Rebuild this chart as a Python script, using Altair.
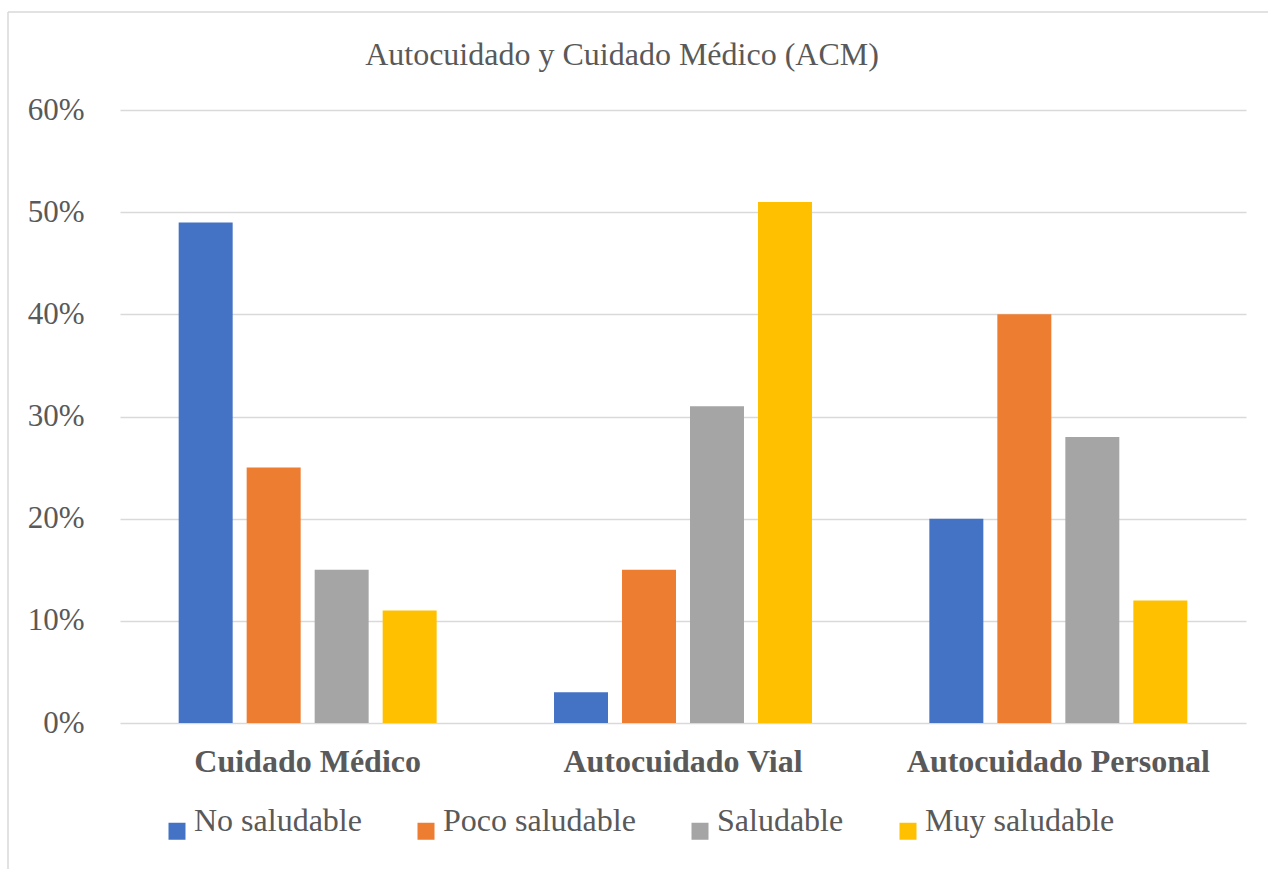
import altair as alt
import pandas as pd

# Chart values
categories = ["Cuidado Médico", "Autocuidado Vial", "Autocuidado Personal"]
series = ["No saludable", "Poco saludable", "Saludable", "Muy saludable"]
colors = ["#4472C4", "#ED7D31", "#A5A5A5", "#FFC000"]
no_saludable = [0.49, 0.03, 0.20]
poco_saludable = [0.25, 0.15, 0.40]
saludable = [0.15, 0.31, 0.28]
muy_saludable = [0.11, 0.51, 0.12]
y_ticks = [0, 0.1, 0.2, 0.3, 0.4, 0.5, 0.6]
title_text = "Autocuidado y Cuidado Médico (ACM)"

rows = []
for name, vals in zip(series, [no_saludable, poco_saludable, saludable, muy_saludable]):
    for cat, v in zip(categories, vals):
        rows.append({"categoria": cat, "nivel": name, "valor": v})
df = pd.DataFrame(rows)

FONT = "Liberation Serif"
TEXT = "#595959"
GRID = "#D9D9D9"

bars = alt.Chart(df).mark_bar().encode(
    x=alt.X("categoria:N", sort=categories, title=None,
            scale=alt.Scale(paddingInner=0, paddingOuter=0),
            axis=alt.Axis(labelAngle=0, labelFontWeight="bold", labelFontSize=32,
                          labelFont=FONT, labelColor=TEXT, labelPadding=23,
                          labelLimit=600, ticks=False, domain=False, grid=False)),
    xOffset=alt.XOffset("nivel:N", sort=series,
                        scale=alt.Scale(paddingInner=0.206, paddingOuter=0.863)),
    y=alt.Y("valor:Q", title=None,
            scale=alt.Scale(domain=[0, 0.6], nice=False),
            axis=alt.Axis(values=y_ticks, format=".0%", labelFontSize=31,
                          labelFont=FONT, labelColor=TEXT, labelPadding=36,
                          ticks=False, domain=False, grid=True,
                          gridColor=GRID, gridWidth=1.5)),
    color=alt.Color("nivel:N", sort=series,
                    scale=alt.Scale(domain=series, range=colors),
                    legend=alt.Legend(title=None, orient="none", direction="horizontal",
                                      legendX=41, legendY=705,
                                      symbolType="square", symbolSize=289,
                                      symbolStrokeWidth=0, labelFont=FONT,
                                      labelFontSize=32, labelColor=TEXT,
                                      labelOffset=1, columnPadding=48,
                                      labelBaseline="alphabetic",
                                      labelLimit=400)),
)

title_df = pd.DataFrame({"t": [title_text]})
title = alt.Chart(title_df).mark_text(
    font=FONT, fontSize=32, color=TEXT, baseline="middle", align="center"
).encode(text="t:N", x=alt.value(502), y=alt.value(-55))

border_df = pd.DataFrame({"k": [0]})
left_border = alt.Chart(border_df).mark_rule(color=GRID, strokeWidth=1.5).encode(
    x=alt.value(-112), y=alt.value(-98), y2=alt.value(780))
top_border = alt.Chart(border_df).mark_rule(color=GRID, strokeWidth=1.5).encode(
    x=alt.value(-112), x2=alt.value(1200), y=alt.value(-98))

chart = alt.layer(bars, title, left_border, top_border).properties(
    width=1126, height=613,
    autosize=alt.AutoSizeParams(type="none"),
    padding={"left": 120, "top": 110, "right": 22, "bottom": 146},
    background="white",
).configure_view(stroke=None)

chart.save("out.html", embed_options={"renderer": "svg", "actions": False})
